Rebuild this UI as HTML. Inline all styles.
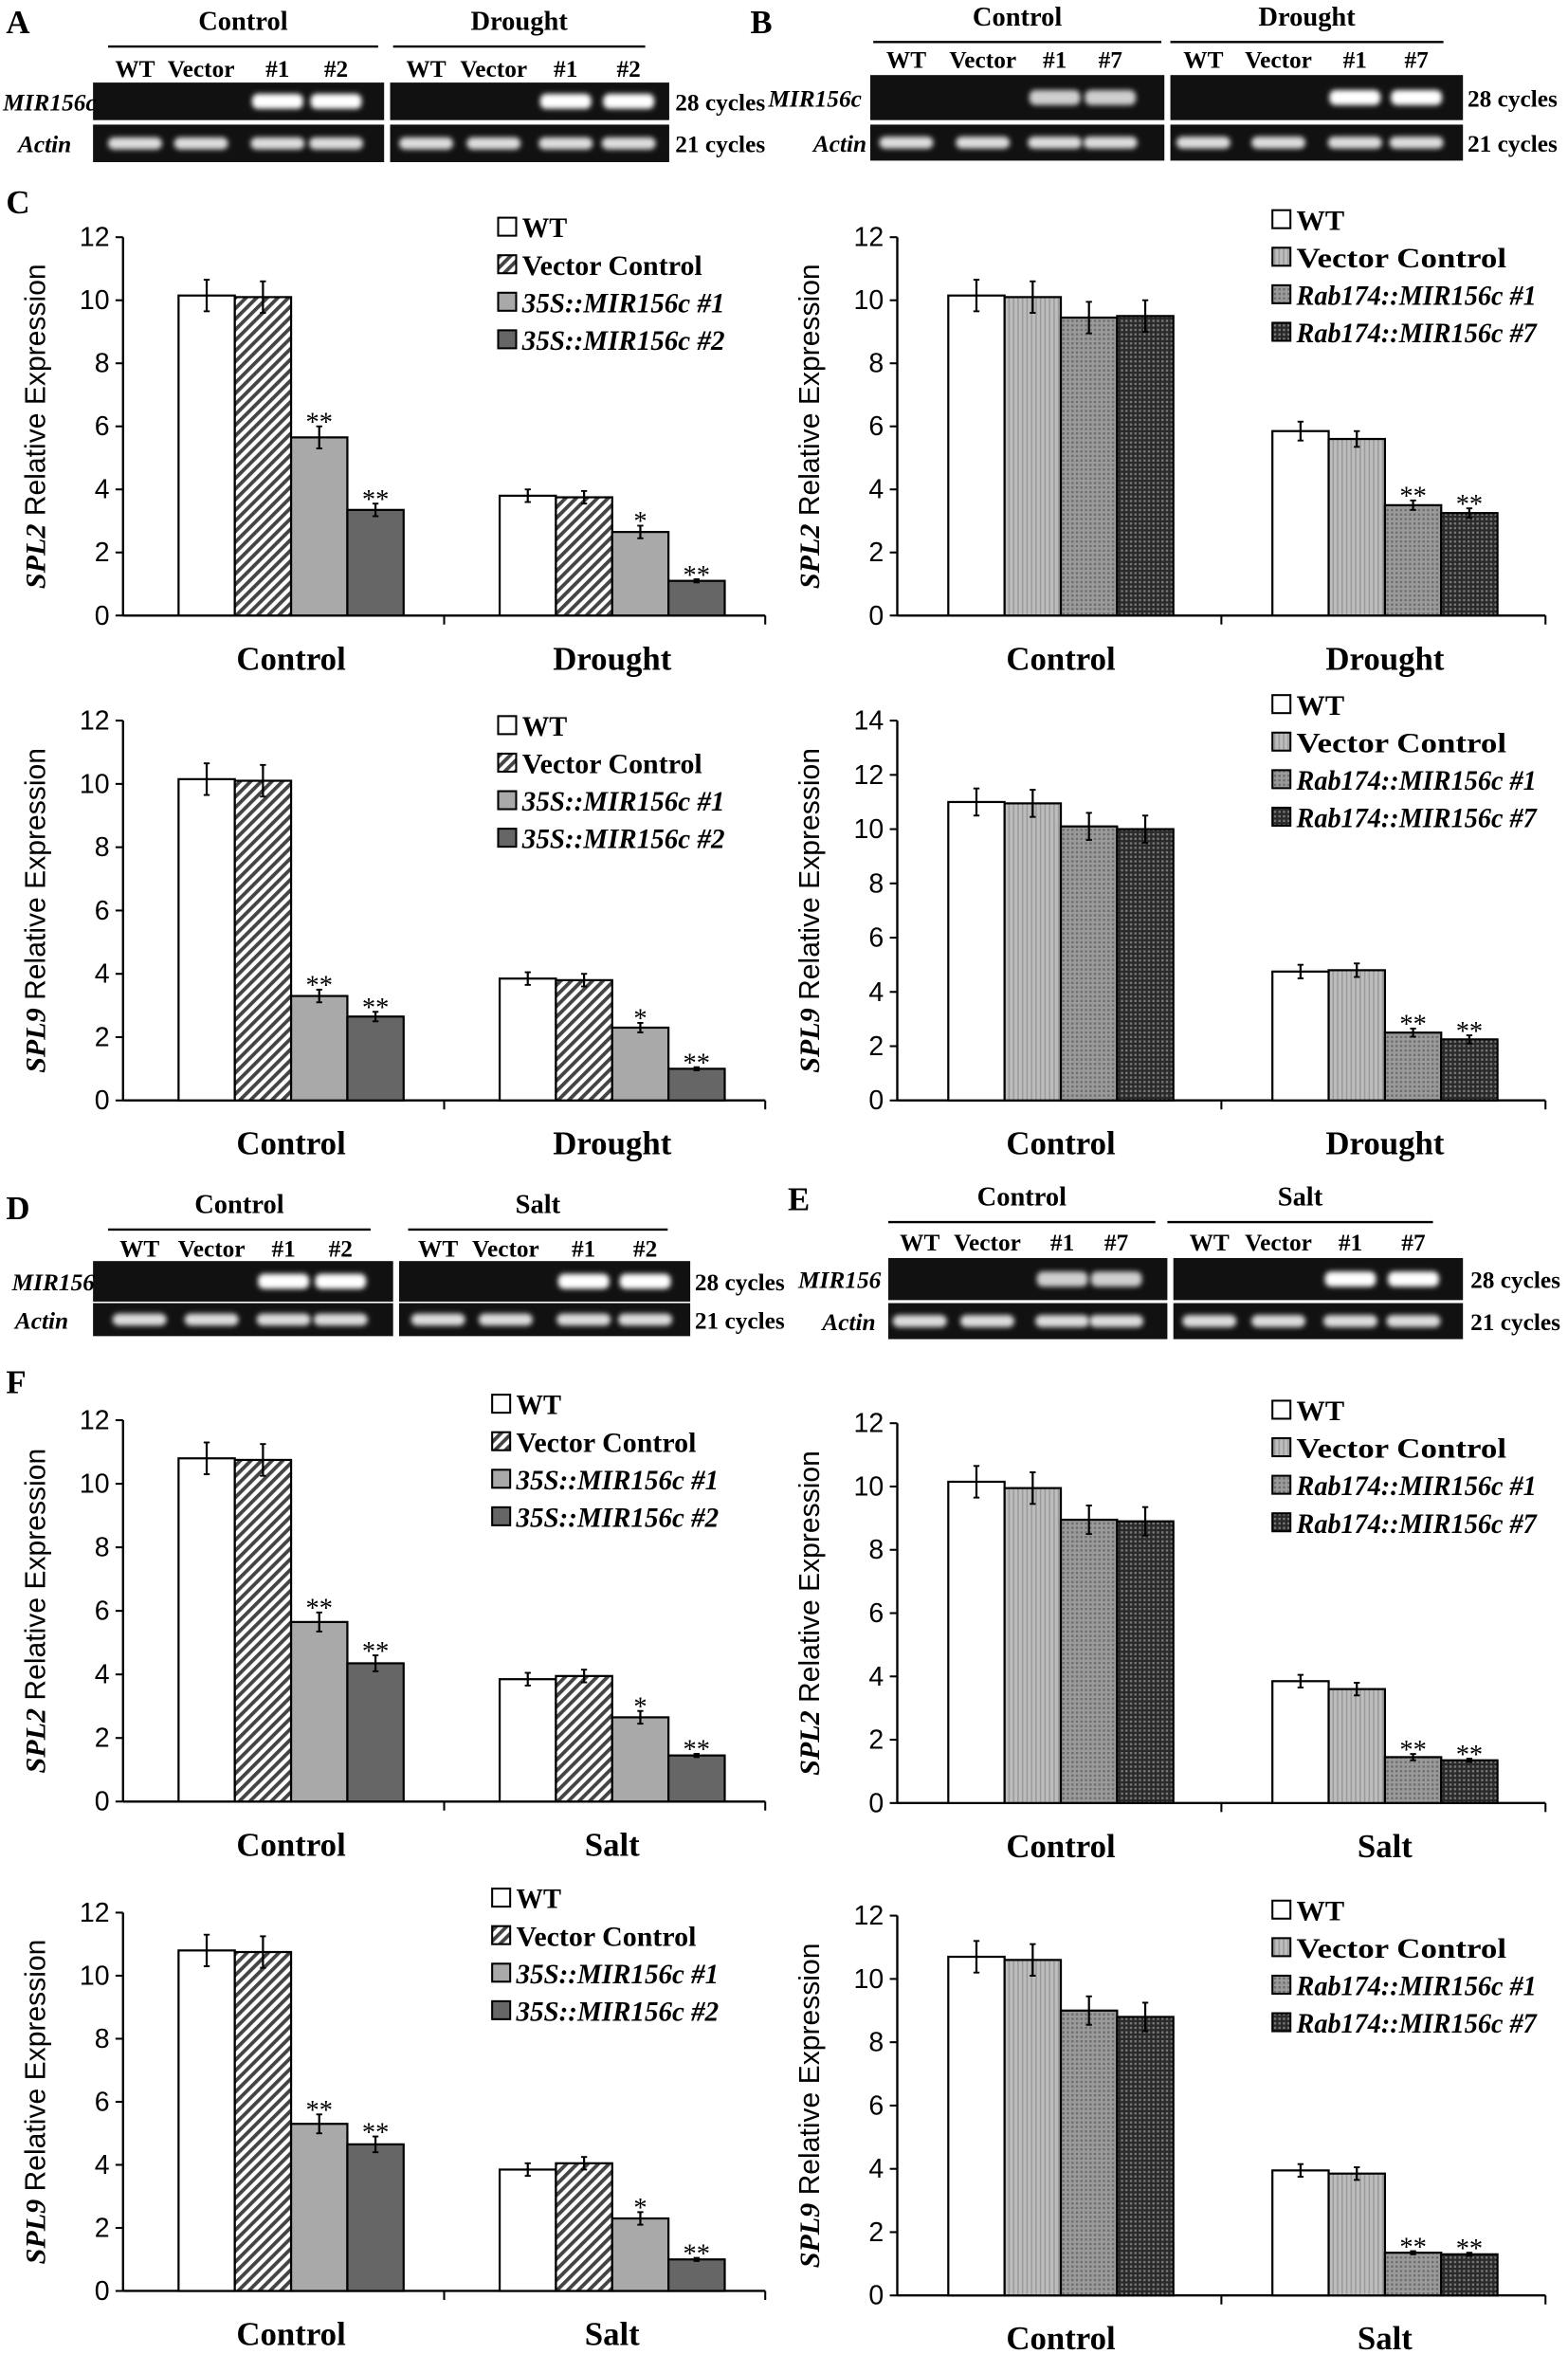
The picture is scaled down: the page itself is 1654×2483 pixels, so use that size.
<!DOCTYPE html>
<html><head><meta charset="utf-8">
<style>
html,body{margin:0;padding:0;background:#fff;}
svg{display:block;font-family:"Liberation Serif",serif;}
</style></head>
<body>
<svg id="fig" width="1654" height="2483" viewBox="0 0 1045 1568" preserveAspectRatio="none" xmlns="http://www.w3.org/2000/svg">
<defs>
<pattern id="hatch" width="5" height="5" patternUnits="userSpaceOnUse" patternTransform="rotate(45)"><rect width="5" height="5" fill="#fff"/><rect width="2.4" height="5" fill="#444"/></pattern>
<pattern id="vstripe" width="3" height="3" patternUnits="userSpaceOnUse"><rect width="3" height="3" fill="#bdbdbd"/><rect width="1" height="3" fill="#9a9a9a"/></pattern>
<pattern id="dotgray" width="3" height="3" patternUnits="userSpaceOnUse"><rect width="3" height="3" fill="#9a9a9a"/><rect width="1.5" height="1.5" fill="#6e6e6e"/></pattern>
<pattern id="checker" width="3" height="3" patternUnits="userSpaceOnUse"><rect width="3" height="3" fill="#2a2a2a"/><rect width="1.5" height="1.5" fill="#777"/></pattern>
<filter id="blur" x="-20%" y="-50%" width="140%" height="200%"><feGaussianBlur stdDeviation="1.6"/></filter>
</defs>
<g id="gels"></g>
<g id="charts"></g>
</svg>
<script>
// ---- Chart data ----
const categoriesDrought = ["Control", "Drought"];
const categoriesSalt = ["Control", "Salt"];
const legend35S = ["WT", "Vector Control", "35S::MIR156c #1", "35S::MIR156c #2"];
const legendRab = ["WT", "Vector Control", "Rab174::MIR156c #1", "Rab174::MIR156c #7"];
const ticks12 = [0, 2, 4, 6, 8, 10, 12];
const ticks14 = [0, 2, 4, 6, 8, 10, 12, 14];

const c1Values = [[10.15, 10.1, 5.65, 3.35], [3.8, 3.75, 2.65, 1.1]];
const c1Errors = [[0.5, 0.5, 0.35, 0.2], [0.2, 0.2, 0.2, 0.05]];
const c1Stars = [["", "", "**", "**"], ["", "", "*", "**"]];

const c2Values = [[10.15, 10.1, 9.45, 9.5], [5.85, 5.6, 3.5, 3.25]];
const c2Errors = [[0.5, 0.5, 0.5, 0.5], [0.3, 0.25, 0.15, 0.15]];
const c2Stars = [["", "", "", ""], ["", "", "**", "**"]];

const c3Values = [[10.15, 10.1, 3.3, 2.65], [3.85, 3.8, 2.3, 1.0]];
const c3Errors = [[0.5, 0.5, 0.2, 0.15], [0.2, 0.2, 0.15, 0.05]];
const c3Stars = [["", "", "**", "**"], ["", "", "*", "**"]];

const c4Values = [[11.0, 10.95, 10.1, 10.0], [4.75, 4.8, 2.5, 2.25]];
const c4Errors = [[0.5, 0.5, 0.5, 0.5], [0.25, 0.25, 0.15, 0.15]];
const c4Stars = [["", "", "", ""], ["", "", "**", "**"]];

const f1Values = [[10.8, 10.75, 5.65, 4.35], [3.85, 3.95, 2.65, 1.45]];
const f1Errors = [[0.5, 0.5, 0.3, 0.25], [0.2, 0.2, 0.2, 0.05]];
const f1Stars = [["", "", "**", "**"], ["", "", "*", "**"]];

const f2Values = [[10.15, 9.95, 8.95, 8.9], [3.85, 3.6, 1.45, 1.35]];
const f2Errors = [[0.5, 0.5, 0.45, 0.45], [0.2, 0.2, 0.1, 0.05]];
const f2Stars = [["", "", "", ""], ["", "", "**", "**"]];

const f3Values = [[10.8, 10.75, 5.3, 4.65], [3.85, 4.05, 2.3, 1.0]];
const f3Errors = [[0.5, 0.5, 0.3, 0.25], [0.2, 0.2, 0.2, 0.05]];
const f3Stars = [["", "", "**", "**"], ["", "", "*", "**"]];

const f4Values = [[10.7, 10.6, 9.0, 8.8], [3.95, 3.85, 1.35, 1.3]];
const f4Errors = [[0.5, 0.5, 0.45, 0.45], [0.2, 0.2, 0.05, 0.05]];
const f4Stars = [["", "", "", ""], ["", "", "**", "**"]];

const NS = "http://www.w3.org/2000/svg";
function mk(parent, tag, attrs, text) {
  const e = document.createElementNS(NS, tag);
  for (const k in attrs) e.setAttribute(k, attrs[k]);
  if (text !== undefined) e.textContent = text;
  parent.appendChild(e);
  return e;
}
const fillsL = ["#fff", "url(#hatch)", "#a9a9a9", "#666"];
const fillsR = ["#fff", "url(#vstripe)", "url(#dotgray)", "url(#checker)"];
const SANS = '"Liberation Sans", sans-serif';

function chart(cfg) {
  const root = document.getElementById("charts");
  const g = mk(root, "g", {});
  
  
  const {x0, x1, y0, yT, max, ticks, values, errors, stars, cats, legend, lx, ly, fills, gene, shift} = cfg;
  const ys = v => y0 - (v / max) * (y0 - yT);
  const bandW = (x1 - x0) / cats.length;
  const bw = 37.5;
  const ya = mk(g, "line", {x1: x0, y1: yT, x2: x0, y2: y0, stroke: "#000", "stroke-width": 1.5});
  
  
  const xa = mk(g, "line", {x1: x0, y1: y0, x2: x1, y2: y0, stroke: "#000", "stroke-width": 1.5});
  
  
  ticks.forEach(t => {
    mk(g, "line", {x1: x0 - 5, y1: ys(t), x2: x0, y2: ys(t), stroke: "#000", "stroke-width": 1.3});
    const tl = mk(g, "text", {x: x0 - 9, y: ys(t) + 6, "text-anchor": "end", "font-size": 18, "font-family": SANS}, t);
    
    
  });
  for (let i = 1; i < cats.length; i++) {
    mk(g, "line", {x1: x0 + i * bandW, y1: y0, x2: x0 + i * bandW, y2: y0 + 6, stroke: "#000", "stroke-width": 1.3});
  }
  mk(g, "line", {x1: x1, y1: y0, x2: x1, y2: y0 + 6, stroke: "#000", "stroke-width": 1.3});
  cats.forEach((c, i) => {
    const cx = x0 + (i + 0.5) * bandW + shift;
    const cl = mk(g, "text", {x: cx, y: y0 + 36, "text-anchor": "middle", "font-size": 22, "font-weight": "bold"}, c);
    
    
    values[i].forEach((v, j) => {
      const bx = cx - 2 * bw + j * bw;
      const r = mk(g, "rect", {x: bx, y: ys(v), width: bw, height: y0 - ys(v), fill: fills[j], stroke: "#000", "stroke-width": 1.4});
      
      
      const e = errors[i][j];
      const m = bx + bw / 2;
      mk(g, "line", {x1: m, y1: ys(v + e), x2: m, y2: ys(Math.max(v - e, 0)), stroke: "#000", "stroke-width": 1.4});
      mk(g, "line", {x1: m - 2, y1: ys(v + e), x2: m + 2, y2: ys(v + e), stroke: "#000", "stroke-width": 1.2});
      mk(g, "line", {x1: m - 2, y1: ys(v - e), x2: m + 2, y2: ys(v - e), stroke: "#000", "stroke-width": 1.2});
      if (stars[i][j]) {
        const s = mk(g, "text", {x: m, y: ys(v + e) + 3, "text-anchor": "middle", "font-size": 18}, stars[i][j]);
        
        
      }
    });
  });
  const yc = (y0 + yT) / 2;
  const tt = mk(g, "text", {x: 0, y: 0, transform: `translate(${x0 - 52},${yc}) rotate(-90)`, "text-anchor": "middle", "font-size": 19, "font-family": SANS});
  
  
  mk(tt, "tspan", {"font-style": "italic", "font-weight": "bold", "font-family": '"Liberation Serif", serif'}, gene);
  mk(tt, "tspan", {}, " Relative Expression");
  legend.forEach((l, j) => {
    const yy = ly + j * 25;
    const le = mk(g, "g", {});
    
    
    mk(le, "rect", {x: lx, y: yy - 13, width: 12, height: 12, fill: fills[j], stroke: "#000", "stroke-width": 1.3});
    mk(le, "text", {x: lx + 16, y: yy, "font-size": 19, "font-weight": "bold", "font-style": j >= 2 ? "italic" : "normal", textLength: cfg.lw[j], lengthAdjust: "spacingAndGlyphs"}, l);
  });
}
const lwL = [30, 120, 135, 135];
const lwR = [32, 140, 160, 160];

chart({name: "chart-c-spl2-35s", x0: 82, x1: 510, y0: 410, yT: 158, max: 12, ticks: ticks12, values: c1Values, errors: c1Errors, stars: c1Stars, cats: categoriesDrought, legend: legend35S, lx: 332, ly: 158, fills: fillsL, gene: "SPL2", shift: 5, lw: lwL});
chart({name: "chart-c-spl2-rab", x0: 598, x1: 1030, y0: 410, yT: 158, max: 12, ticks: ticks12, values: c2Values, errors: c2Errors, stars: c2Stars, cats: categoriesDrought, legend: legendRab, lx: 848, ly: 153, fills: fillsR, gene: "SPL2", shift: 1, lw: lwR});
chart({name: "chart-c-spl9-35s", x0: 82, x1: 510, y0: 733, yT: 480, max: 12, ticks: ticks12, values: c3Values, errors: c3Errors, stars: c3Stars, cats: categoriesDrought, legend: legend35S, lx: 332, ly: 490, fills: fillsL, gene: "SPL9", shift: 5, lw: lwL});
chart({name: "chart-c-spl9-rab", x0: 598, x1: 1030, y0: 733, yT: 480, max: 14, ticks: ticks14, values: c4Values, errors: c4Errors, stars: c4Stars, cats: categoriesDrought, legend: legendRab, lx: 848, ly: 476, fills: fillsR, gene: "SPL9", shift: 1, lw: lwR});
chart({name: "chart-f-spl2-35s", x0: 82, x1: 510, y0: 1200, yT: 946, max: 12, ticks: ticks12, values: f1Values, errors: f1Errors, stars: f1Stars, cats: categoriesSalt, legend: legend35S, lx: 328, ly: 942, fills: fillsL, gene: "SPL2", shift: 5, lw: lwL});
chart({name: "chart-f-spl2-rab", x0: 598, x1: 1030, y0: 1201, yT: 948, max: 12, ticks: ticks12, values: f2Values, errors: f2Errors, stars: f2Stars, cats: categoriesSalt, legend: legendRab, lx: 848, ly: 946, fills: fillsR, gene: "SPL2", shift: 1, lw: lwR});
chart({name: "chart-f-spl9-35s", x0: 82, x1: 510, y0: 1526, yT: 1274, max: 12, ticks: ticks12, values: f3Values, errors: f3Errors, stars: f3Stars, cats: categoriesSalt, legend: legend35S, lx: 328, ly: 1271, fills: fillsL, gene: "SPL9", shift: 5, lw: lwL});
chart({name: "chart-f-spl9-rab", x0: 598, x1: 1030, y0: 1529, yT: 1276, max: 12, ticks: ticks12, values: f4Values, errors: f4Errors, stars: f4Stars, cats: categoriesSalt, legend: legendRab, lx: 848, ly: 1279, fills: fillsR, gene: "SPL9", shift: 1, lw: lwR});

// ---- Gel panels ----
const gelRoot = document.getElementById("gels");
function txt(p, x, y, s, size, opts) {
  const a = Object.assign({x: x, y: y, "font-size": size, "font-weight": "bold"}, opts || {});
  return mk(p, "text", a, s);
}
function gelPanel(cfg) {
  const g = mk(gelRoot, "g", {});
  
  
  const pl = txt(g, cfg.lx, cfg.ly, cfg.letter, 22);
  
  
  cfg.groups.forEach(gr => {
    txt(g, (gr.hx0 + gr.hx1) / 2, cfg.hy, gr.title, 18, {"text-anchor": "middle"});
    mk(g, "line", {x1: gr.hx0, y1: cfg.hy + 11, x2: gr.hx1, y2: cfg.hy + 11, stroke: "#000", "stroke-width": 1.5});
    gr.lanes.forEach((ln, k) => txt(g, gr.lx[k], cfg.cy, ln, 16, {"text-anchor": "middle"}));
    mk(g, "rect", {x: gr.gx0, y: cfg.r1y, width: gr.gx1 - gr.gx0, height: cfg.r1h, fill: "#111"});
    mk(g, "rect", {x: gr.gx0, y: cfg.r2y, width: gr.gx1 - gr.gx0, height: cfg.r2h, fill: "#111"});
    gr.lx.forEach((x, k) => {
      if (gr.bands[k] > 0) mk(g, "rect", {x: x - 17, y: cfg.r1y + cfg.r1h / 2 - 5, width: 34, height: 10, rx: 4, fill: "#fff", opacity: gr.bands[k], filter: "url(#blur)"});
      mk(g, "rect", {x: x - 18, y: cfg.r2y + cfg.r2h / 2 - 4, width: 36, height: 8, rx: 4, fill: "#ddd", filter: "url(#blur)"});
    });
  });
  txt(g, cfg.gl1x, cfg.r1y + cfg.r1h / 2 + 6, cfg.gene, 16, {"font-style": "italic"});
  txt(g, cfg.gl2x, cfg.r2y + cfg.r2h / 2 + 6, "Actin", 16, {"font-style": "italic"});
  txt(g, cfg.cx, cfg.r1y + cfg.r1h / 2 + 6, "28 cycles", 16);
  txt(g, cfg.cx, cfg.r2y + cfg.r2h / 2 + 6, "21 cycles", 16);
}
gelPanel({name: "gel-panel-a", letter: "A", lx: 4, ly: 22, hy: 20, cy: 51, r1y: 55, r1h: 25, r2y: 83, r2h: 25, gene: "MIR156c", gl1x: 2, gl2x: 12, cx: 450,
  groups: [{title: "Control", hx0: 72, hx1: 252, gx0: 62, gx1: 256, lanes: ["WT", "Vector", "#1", "#2"], lx: [90, 134, 185, 224], bands: [0, 0, 1, 1]},
           {title: "Drought", hx0: 262, hx1: 430, gx0: 260, gx1: 446, lanes: ["WT", "Vector", "#1", "#2"], lx: [284, 329, 377, 419], bands: [0, 0, 1, 1]}]});
gelPanel({name: "gel-panel-b", letter: "B", lx: 500, ly: 22, hy: 17, cy: 45, r1y: 50, r1h: 30, r2y: 83, r2h: 24, gene: "MIR156c", gl1x: 512, gl2x: 542, cx: 978,
  groups: [{title: "Control", hx0: 582, hx1: 774, gx0: 580, gx1: 776, lanes: ["WT", "Vector", "#1", "#7"], lx: [604, 655, 703, 740], bands: [0, 0, 0.8, 0.8]},
           {title: "Drought", hx0: 780, hx1: 962, gx0: 780, gx1: 975, lanes: ["WT", "Vector", "#1", "#7"], lx: [802, 852, 903, 944], bands: [0, 0, 1, 1]}]});
gelPanel({name: "gel-panel-d", letter: "D", lx: 4, ly: 812, hy: 808, cy: 837, r1y: 840, r1h: 27, r2y: 868, r2h: 22, gene: "MIR156", gl1x: 8, gl2x: 10, cx: 463,
  groups: [{title: "Control", hx0: 72, hx1: 247, gx0: 62, gx1: 262, lanes: ["WT", "Vector", "#1", "#2"], lx: [93, 141, 189, 227], bands: [0, 0, 1, 1]},
           {title: "Salt", hx0: 272, hx1: 445, gx0: 266, gx1: 460, lanes: ["WT", "Vector", "#1", "#2"], lx: [292, 337, 389, 430], bands: [0, 0, 1, 1]}]});
gelPanel({name: "gel-panel-e", letter: "E", lx: 525, ly: 806, hy: 803, cy: 833, r1y: 838, r1h: 28, r2y: 868, r2h: 24, gene: "MIR156", gl1x: 532, gl2x: 548, cx: 980,
  groups: [{title: "Control", hx0: 592, hx1: 770, gx0: 592, gx1: 778, lanes: ["WT", "Vector", "#1", "#7"], lx: [613, 658, 708, 744], bands: [0, 0, 0.8, 0.8]},
           {title: "Salt", hx0: 778, hx1: 955, gx0: 782, gx1: 975, lanes: ["WT", "Vector", "#1", "#7"], lx: [806, 852, 900, 942], bands: [0, 0, 1, 1]}]});
const lc = txt(gelRoot, 4, 142, "C", 22);


const lf = txt(gelRoot, 4, 928, "F", 22);


</script>
</body></html>
